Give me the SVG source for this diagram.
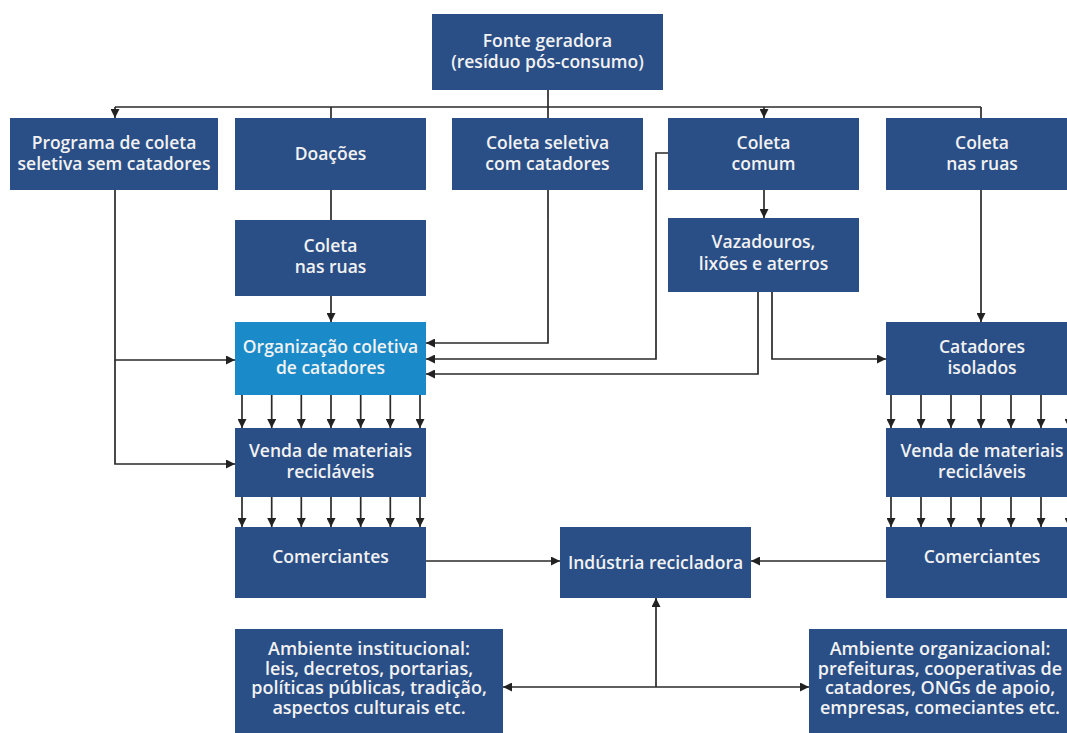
<svg xmlns="http://www.w3.org/2000/svg" width="1067" height="733" viewBox="0 0 1067 733">
<defs>
<marker id="ah" viewBox="0 0 10 10" refX="10" refY="5" markerWidth="9" markerHeight="9" markerUnits="userSpaceOnUse" orient="auto-start-reverse"><path d="M0,0 L10,5 L0,10 z" fill="#222"/></marker>
</defs>
<style>
.box{fill:#2a4e86}
.box2{fill:#1a8ac8}
.t{font-family:"Open Sans","Noto Sans",sans-serif;font-size:17.5px;font-weight:600;fill:#f2f2f2;text-anchor:middle}
.ts{font-size:18px}
.c{fill:none;stroke:#2a2a2a;stroke-width:1.7}
.a{marker-end:url(#ah)}
</style>
<rect width="1067" height="733" fill="#ffffff"/>
<g id="connectors">
<path class="c" d="M548,90 V118"/>
<path class="c" d="M115,107 H981"/>
<path class="c a" d="M115,107 V118"/>
<path class="c a" d="M764,107 V118"/>
<path class="c" d="M331,107 V118"/>
<path class="c" d="M981,107 V118"/>
<path class="c a" d="M115,190 V360 H235"/>
<path class="c a" d="M115,360 V464 H235"/>
<path class="c" d="M331,190 V220"/>
<path class="c a" d="M331,296 V322"/>
<path class="c a" d="M548,190 V343 H426"/>
<path class="c a" d="M668,153 H656 V359 H426"/>
<path class="c a" d="M764,190 V218"/>
<path class="c a" d="M758,292 V374 H426"/>
<path class="c a" d="M772,292 V359 H886"/>
<path class="c a" d="M981,190 V322"/>
<g id="org-to-venda">
<path class="c a" d="M242,395 V428"/><path class="c a" d="M271.7,395 V428"/><path class="c a" d="M301.3,395 V428"/><path class="c a" d="M331,395 V428"/><path class="c a" d="M360.7,395 V428"/><path class="c a" d="M390.3,395 V428"/><path class="c a" d="M420,395 V428"/>
</g>
<g id="venda-to-com">
<path class="c a" d="M242,497 V527"/><path class="c a" d="M271.7,497 V527"/><path class="c a" d="M301.3,497 V527"/><path class="c a" d="M331,497 V527"/><path class="c a" d="M360.7,497 V527"/><path class="c a" d="M390.3,497 V527"/><path class="c a" d="M420,497 V527"/>
</g>
<g id="cat-to-venda">
<path class="c a" d="M891,395 V428"/><path class="c a" d="M921,395 V428"/><path class="c a" d="M951,395 V428"/><path class="c a" d="M981,395 V428"/><path class="c a" d="M1011,395 V428"/><path class="c a" d="M1041,395 V428"/><path class="c a" d="M1069,395 V428"/>
</g>
<g id="vendaR-to-comR">
<path class="c a" d="M891,497 V527"/><path class="c a" d="M921,497 V527"/><path class="c a" d="M951,497 V527"/><path class="c a" d="M981,497 V527"/><path class="c a" d="M1011,497 V527"/><path class="c a" d="M1041,497 V527"/><path class="c a" d="M1069,497 V527"/>
</g>
<path class="c a" d="M426,561 H560"/>
<path class="c a" d="M886,561 H751"/>
<path class="c" d="M503,687 H809" style="marker-start:url(#ah);marker-end:url(#ah)"/>
<path class="c a" d="M656,687 V598"/>
</g>
<g id="fonte"><rect class="box" x="432" y="14" width="231" height="76"/><text class="t" x="547.5" y="47">Fonte geradora</text><text class="t" x="547.5" y="68">(resíduo pós-consumo)</text></g>
<g id="programa"><rect class="box" x="10" y="118" width="208" height="72"/><text class="t" x="114" y="149">Programa de coleta</text><text class="t" x="114" y="170">seletiva sem catadores</text></g>
<g id="doacoes"><rect class="box" x="235" y="118" width="191" height="72"/><text class="t" x="330.5" y="160">Doações</text></g>
<g id="coleta-seletiva"><rect class="box" x="452" y="118" width="191" height="72"/><text class="t" x="547.5" y="149">Coleta seletiva</text><text class="t" x="547.5" y="170">com catadores</text></g>
<g id="coleta-comum"><rect class="box" x="668" y="118" width="191" height="72"/><text class="t" x="763.5" y="149">Coleta</text><text class="t" x="763.5" y="170">comum</text></g>
<g id="coleta-ruas-r"><rect class="box" x="886" y="118" width="192" height="72"/><text class="t" x="982" y="149">Coleta</text><text class="t" x="982" y="170">nas ruas</text></g>
<g id="coleta-ruas-m"><rect class="box" x="235" y="220" width="191" height="76"/><text class="t" x="330.5" y="252">Coleta</text><text class="t" x="330.5" y="273">nas ruas</text></g>
<g id="vazadouros"><rect class="box" x="668" y="218" width="191" height="74"/><text class="t" x="763.5" y="248">Vazadouros,</text><text class="t" x="763.5" y="270">lixões e aterros</text></g>
<g id="organizacao"><rect class="box2" x="235" y="322" width="191" height="73"/><text class="t" x="330.5" y="353">Organização coletiva</text><text class="t" x="330.5" y="374">de catadores</text></g>
<g id="catadores-isolados"><rect class="box" x="886" y="322" width="192" height="73"/><text class="t" x="982" y="353">Catadores</text><text class="t" x="982" y="374">isolados</text></g>
<g id="venda-l"><rect class="box" x="235" y="428" width="191" height="69"/><text class="t" x="330.5" y="457">Venda de materiais</text><text class="t" x="330.5" y="478">recicláveis</text></g>
<g id="venda-r"><rect class="box" x="886" y="428" width="192" height="69"/><text class="t" x="982" y="457">Venda de materiais</text><text class="t" x="982" y="478">recicláveis</text></g>
<g id="comerciantes-l"><rect class="box" x="235" y="527" width="191" height="71"/><text class="t" x="330.5" y="563">Comerciantes</text></g>
<g id="industria"><rect class="box" x="560" y="527" width="191" height="71"/><text class="t" x="655.5" y="569">Indústria recicladora</text></g>
<g id="comerciantes-r"><rect class="box" x="886" y="527" width="192" height="71"/><text class="t" x="982" y="563">Comerciantes</text></g>
<g id="ambiente-institucional"><rect class="box" x="235" y="629" width="268" height="110"/><text class="t ts" x="369" y="655">Ambiente institucional:</text><text class="t ts" x="369" y="674.5">leis, decretos, portarias,</text><text class="t ts" x="369" y="694">políticas públicas, tradição,</text><text class="t ts" x="369" y="713.5">aspectos culturais etc.</text></g>
<g id="ambiente-organizacional"><rect class="box" x="809" y="629" width="262" height="110"/><text class="t ts" x="940" y="655">Ambiente organizacional:</text><text class="t ts" x="940" y="674.5">prefeituras, cooperativas de</text><text class="t ts" x="940" y="694">catadores, ONGs de apoio,</text><text class="t ts" x="940" y="713.5">empresas, comeciantes etc.</text></g>
</svg>
